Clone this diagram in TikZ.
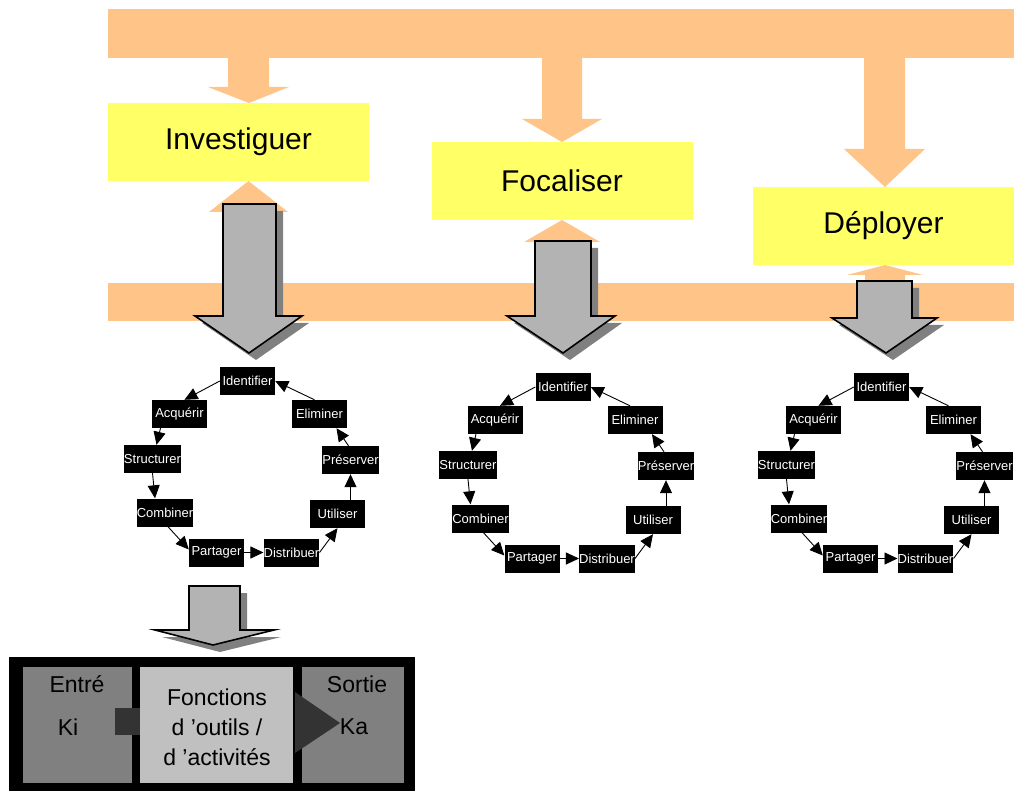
\documentclass[tikz,border=0pt]{standalone}
\usepackage{fontspec}
\setmainfont{Liberation Sans}
\usetikzlibrary{arrows.meta}

\definecolor{bandorange}{HTML}{FFC488}
\definecolor{titleyellow}{HTML}{FFFF66}
\definecolor{arrowgray}{HTML}{B3B3B3}
\definecolor{shadowgray}{HTML}{808080}
\definecolor{panelgray}{HTML}{808080}
\definecolor{panellight}{HTML}{C0C0C0}
\definecolor{linkdark}{HTML}{333333}

\tikzset{
  band/.style={fill=bandorange, draw=none},
  phase/.style={fill=titleyellow, draw=none, minimum width=261pt, minimum height=78pt,
    inner sep=0pt, font=\fontsize{30}{34}\selectfont},
  activity/.style={fill=black, text=white, minimum width=55pt, minimum height=28pt,
    inner sep=0pt, font=\fontsize{13}{15}\selectfont},
  flow/.style={-{Triangle[length=13pt,width=12pt]}, line width=0.9pt},
  blockfill/.style={fill=arrowgray, draw=black, line width=1.6pt, line join=miter},
  blockshadow/.style={fill=shadowgray, draw=none},
  panel/.style={draw=none, inner sep=0pt, minimum height=116pt},
  paneltext/.style={font=\fontsize{23}{30}\selectfont, align=center, inner sep=0pt}
}

% block arrow outline: stem left, stem right, stem end, head base,
% head left, head right, tip x, tip y
\newcommand\blockpath[8]{(#1,#3) -- (#2,#3) -- (#2,#4) -- (#6,#4) -- (#7,#8) -- (#5,#4) -- (#1,#4) -- cycle}
\newcommand\orangeblock[8]{\fill[band] \blockpath{#1}{#2}{#3}{#4}{#5}{#6}{#7}{#8};}
\newcommand\grayblock[8]{%
  \fill[blockshadow, shift={(7,7)}] \blockpath{#1}{#2}{#3}{#4}{#5}{#6}{#7}{#8};
  \draw[blockfill] \blockpath{#1}{#2}{#3}{#4}{#5}{#6}{#7}{#8};}

% knowledge cycle of nine activities: name prefix, x offset, y offset
\newcommand\kmcycle[3]{%
  \begin{scope}[shift={(#2,#3)}]
    \node[activity] (#1-id)  at (247.5,381)   {Identifier};
    \node[activity] (#1-acq) at (179.5,414)   {Acquérir};
    \node[activity] (#1-eli) at (319.5,414)   {Eliminer};
    \node[activity] (#1-str) at (152.5,459)   {Structurer};
    \node[activity] (#1-pre) at (350.5,460)   {Préserver};
    \node[activity] (#1-com) at (165,512.5)   {Combiner};
    \node[activity] (#1-uti) at (337.5,514)   {Utiliser};
    \node[activity] (#1-par) at (216.5,552.5) {Partager};
    \node[activity] (#1-dis) at (291.5,552.5) {Distribuer};
  \end{scope}
  \draw[flow] (#1-id.west) -- ([xshift=5pt]#1-acq.north);
  \draw[flow] ([xshift=-19pt]#1-acq.south) -- ([xshift=4pt]#1-str.north);
  \draw[flow] (#1-str.south) -- ([xshift=-10pt]#1-com.north);
  \draw[flow] ([xshift=3pt]#1-com.south) -- ([yshift=3pt]#1-par.west);
  \draw[flow] (#1-par.east) -- (#1-dis.west);
  \draw[flow] (#1-dis.east) -- (#1-uti.south);
  \draw[flow] ([xshift=13pt]#1-uti.north) -- (#1-pre.south);
  \draw[flow] ([xshift=-2pt]#1-pre.north) -- ([xshift=17pt]#1-eli.south);
  \draw[flow] ([xshift=-5pt]#1-eli.north) -- (#1-id.east);
}

\begin{document}
\begin{tikzpicture}[x=1pt, y=-1pt]
  \useasboundingbox (0,0) rectangle (1014,791);

  % the two horizontal bands
  \fill[band] (108,9) rectangle (1014,58);
  \fill[band] (108,283) rectangle (1014,321);

  % arrows from the upper band down to each phase
  \orangeblock{228}{269}{58}{87}{208}{289}{249}{103}
  \orangeblock{542}{582}{58}{119}{522}{602}{562}{142}
  \orangeblock{864}{905}{58}{149}{844}{925}{885}{187}

  % the three phases
  \node[phase] (inv) at (238.5,142) {Investiguer};
  \node[phase] (foc) at (562,181)   {Focaliser};
  \node[phase] (dep) at (883.5,226) {Déployer};

  % arrows from the lower band up to each phase
  \orangeblock{229}{269}{283}{212}{209}{288}{248.5}{181}
  \orangeblock{543}{583}{283}{242}{524}{600}{562}{220}
  \orangeblock{865}{905}{283}{275}{847}{923}{885}{265}

  % grey arrows from each phase down to its cycle
  \grayblock{223}{276}{204}{316}{195}{302}{249}{353}
  \grayblock{535}{591}{241}{316}{507}{615}{563}{353}
  \grayblock{857}{912}{281}{318}{832}{937}{886}{353}

  % the three knowledge cycles
  \kmcycle{a}{0}{0}
  \kmcycle{b}{315.5}{6}
  \kmcycle{c}{634}{6}

  % grey arrow down to the tool box
  \grayblock{189}{240}{586}{630}{155}{274}{213}{645}

  % tool box: input, functions, output
  \fill[black] (9,657) rectangle (415,791);
  \node[panel, fill=panelgray,  minimum width=109pt] (entree)  at (77.5,725)  {};
  \node[panel, fill=panellight, minimum width=153pt] (fonct)   at (216.5,725) {};
  \node[panel, fill=panelgray,  minimum width=102pt] (sortie)  at (353,725)   {};
  \fill[linkdark] (115,708) rectangle (140,735);
  \fill[linkdark] (295,692) -- (340,723) -- (295,753) -- cycle;

  \node[paneltext] (entre-t)  at (77,684)  {Entré};
  \node[paneltext] (ki-t)     at (68,727)  {Ki};
  \node[paneltext] (fonct-t)  at (217,727) {Fonctions\\d ’outils /\\d ’activités};
  \node[paneltext] (sortie-t) at (357,684) {Sortie};
  \node[paneltext] (ka-t)     at (354,727) {Ka};
\end{tikzpicture}
\end{document}
